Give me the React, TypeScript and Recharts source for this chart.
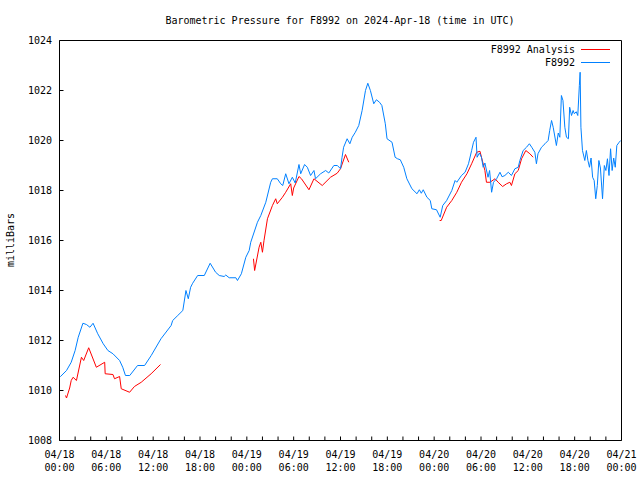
import React from 'react';
import { LineChart, Line, XAxis, YAxis, Legend } from 'recharts';

const FONT = '"DejaVu Sans Mono", "Liberation Mono", monospace';

// Hours since 04/18 00:00 UTC, pressure in milliBars
const blueHours = [
  0.1, 0.9, 1.5, 2.0, 2.4, 3.0, 3.45, 3.9, 4.3, 4.9, 5.6, 6.2, 6.85, 7.7, 8.1, 8.45, 9.0, 10.0, 10.9, 11.75,
  13.0, 14.3, 14.5, 15.15, 15.8, 16.2, 16.5, 16.8, 17.06, 17.7, 18.55, 19.3, 20.0, 20.47, 21.1, 21.3, 21.74, 22.6, 22.8, 23.3,
  23.87, 24.3, 24.5, 25.36, 25.79, 26.43, 27.06, 27.28, 27.9, 28.34, 28.6, 28.98, 29.4, 29.83, 30.2, 30.68, 30.9, 31.4, 31.75, 32.17,
  32.6, 32.8, 33.45, 34.1, 34.5, 35.15, 35.6, 36.0, 36.2, 36.4, 36.85, 37.2, 37.5, 37.9, 38.34, 38.77, 39.2, 39.5, 39.83, 40.26,
  40.6, 41.0, 41.3, 41.74, 41.96, 42.6, 43.0, 43.3, 43.66, 44.1, 44.5, 45.15, 45.8, 46.1, 46.35, 46.6, 47.07, 47.5, 47.7, 48.3,
  48.77, 49.1, 49.6, 50.26, 50.68, 50.9, 51.5, 51.96, 52.4, 52.8, 53.04, 53.36, 53.5, 53.8, 54.06, 54.28, 54.5, 54.9, 55.1, 55.36,
  55.6, 56.0, 56.43, 56.7, 57.06, 57.5, 57.9, 58.34, 58.77, 58.98, 59.4, 59.83, 60.2, 60.5, 60.9, 61.1, 61.3, 61.75, 62.2, 62.6,
  62.8, 63.04, 63.25, 63.66, 63.9, 64.1, 64.3, 64.5, 64.74, 64.95, 65.2, 65.36, 65.6, 65.8, 65.96, 66.2, 66.4, 66.6, 66.7, 66.8,
  67.0, 67.3, 67.5, 67.7, 67.9, 68.1, 68.3, 68.5, 68.7, 68.9, 69.1, 69.3, 69.57, 69.8, 70.0, 70.2, 70.4, 70.6, 70.8, 71.0,
  71.2, 71.4, 71.7, 71.9,
];
const bluePressure = [
  1010.55, 1010.8, 1011.13, 1011.6, 1012.13, 1012.69, 1012.64, 1012.53, 1012.69, 1012.27, 1011.87, 1011.6, 1011.47, 1011.2, 1010.93, 1010.6, 1010.6, 1011.0, 1011.0, 1011.4,
  1012.07, 1012.6, 1012.8, 1013.0, 1013.2, 1014.0, 1013.67, 1014.13, 1014.29, 1014.6, 1014.6, 1015.09, 1014.73, 1014.6, 1014.56, 1014.62, 1014.51, 1014.51, 1014.4, 1014.67,
  1015.33, 1015.6, 1015.93, 1016.73, 1017.0, 1017.53, 1018.33, 1018.47, 1018.47, 1018.27, 1018.2, 1018.67, 1018.27, 1018.53, 1018.3, 1019.04, 1018.67, 1019.04, 1018.93, 1018.6,
  1018.8, 1018.47, 1018.67, 1018.8, 1018.7, 1019.0, 1019.0, 1018.87, 1019.33, 1019.73, 1020.07, 1019.87, 1020.13, 1020.33, 1020.6, 1021.2, 1022.0, 1022.29, 1022.0, 1021.47,
  1021.63, 1021.53, 1021.4, 1020.67, 1020.07, 1019.93, 1019.33, 1019.27, 1019.23, 1018.93, 1018.47, 1018.07, 1017.87, 1018.03, 1017.89, 1018.03, 1017.73, 1017.6, 1017.27, 1017.23,
  1016.93, 1017.4, 1017.6, 1018.0, 1018.4, 1018.33, 1018.6, 1018.73, 1019.07, 1019.6, 1019.93, 1020.13, 1019.33, 1019.5, 1019.33, 1018.93, 1019.1, 1018.53, 1018.8, 1017.93,
  1018.33, 1018.47, 1018.73, 1018.55, 1018.6, 1018.73, 1018.6, 1018.87, 1018.93, 1019.2, 1019.6, 1019.73, 1019.87, 1019.73, 1019.53, 1019.07, 1019.47, 1019.73, 1019.87, 1020.0,
  1020.4, 1020.8, 1020.53, 1019.8, 1020.3, 1020.13, 1021.8, 1021.6, 1020.53, 1020.13, 1020.07, 1021.33, 1021.0, 1021.2, 1021.07, 1021.15, 1021.0, 1022.2, 1022.73, 1020.53,
  1019.6, 1019.2, 1019.6, 1019.2, 1018.93, 1019.3, 1018.53, 1018.4, 1017.67, 1018.2, 1019.2, 1018.9, 1017.67, 1019.0, 1018.8, 1019.27, 1018.6, 1019.67, 1018.8, 1019.3,
  1018.93, 1019.8, 1019.93, 1020.0,
];

const redHours = [
  0.77, 0.9, 1.3, 1.5, 1.74, 2.17, 2.81, 3.1, 3.74, 4.72, 5.79, 5.85, 6.85, 7.05, 7.7, 7.91, 8.98, 9.6, 10.47, 11.74, 12.94,
  18.0,
  24.85, 25.0, 25.57, 25.79, 26.0, 26.2, 26.64, 27.28, 27.7, 27.9, 28.56, 28.98, 29.62, 29.83, 30.0, 30.68, 31.0, 31.96, 32.6, 33.66, 34.72, 35.57, 36.0, 36.64, 37.06,
  43.0,
  48.7, 48.9, 49.6, 50.26, 50.9, 51.5, 52.2, 52.8, 53.45, 53.87, 54.06, 54.5, 54.7, 55.15, 55.8, 56.2, 56.77, 57.28, 57.7, 57.9, 58.34, 58.77, 59.2, 59.74, 60.26, 60.68,
];
const redPressure: (number | null)[] = [
  1009.8, 1009.7, 1010.1, 1010.4, 1010.53, 1010.4, 1011.33, 1011.2, 1011.71, 1010.93, 1011.13, 1010.67, 1010.64, 1010.47, 1010.56, 1010.07, 1009.93, 1010.16, 1010.33, 1010.67, 1011.04,
  null,
  1015.27, 1014.8, 1015.73, 1015.93, 1015.53, 1016.0, 1016.87, 1017.4, 1017.67, 1017.47, 1017.73, 1017.93, 1018.27, 1017.8, 1018.1, 1018.56, 1018.47, 1018.03, 1018.47, 1018.2, 1018.53, 1018.69, 1018.87, 1019.44, 1019.13,
  null,
  1016.8, 1016.8, 1017.33, 1017.6, 1017.93, 1018.33, 1018.67, 1019.07, 1019.53, 1019.57, 1019.33, 1018.8, 1018.33, 1018.33, 1018.47, 1018.33, 1018.16, 1018.27, 1018.33, 1018.2, 1018.67, 1018.8, 1019.27, 1019.6, 1019.47, 1019.33,
];

const hourTicks = [0, 2, 4, 6, 8, 10, 12, 14, 16, 18, 20, 22, 24, 26, 28, 30, 32, 34, 36, 38, 40, 42, 44, 46, 48, 50, 52, 54, 56, 58, 60, 62, 64, 66, 68, 70, 72];
const labelDates = ['04/18', '04/18', '04/18', '04/18', '04/19', '04/19', '04/19', '04/19', '04/20', '04/20', '04/20', '04/20', '04/21'];
const labelTimes = ['00:00', '06:00', '12:00', '18:00', '00:00', '06:00', '12:00', '18:00', '00:00', '06:00', '12:00', '18:00', '00:00'];
const pressureTicks = [1008, 1010, 1012, 1014, 1016, 1018, 1020, 1022, 1024];
const seriesNames = ['F8992 Analysis', 'F8992'];

const blueData = blueHours.map((t, i) => ({ t, p: bluePressure[i] }));
const redData = redHours.map((t, i) => ({ t, p: redPressure[i] }));

const BottomTick = (props: any) => {
  const { x, y, payload } = props;
  const v = payload.value;
  if (v % 6 !== 0) return <g />;
  const i = v / 6;
  return (
    <g>
      <text x={x} y={y + 17} textAnchor="middle" fontFamily={FONT} fontSize={10} fill="#000">{labelDates[i]}</text>
      <text x={x} y={y + 30.5} textAnchor="middle" fontFamily={FONT} fontSize={10} fill="#000">{labelTimes[i]}</text>
    </g>
  );
};

const LegendBox = (props: any) => {
  const items = [...(props.payload || [])].sort(
    (a: any, b: any) => seriesNames.indexOf(a.value) - seriesNames.indexOf(b.value)
  );
  return (
    <svg width={640} height={80} style={{ display: 'block' }}>
      {items.map((e: any, i: number) => (
        <g key={i}>
          <text x={575} y={52.6 + i * 13} textAnchor="end" fontFamily={FONT} fontSize={10} fill="#000">{e.value}</text>
          <line x1={581} x2={610} y1={49.5 + i * 13} y2={49.5 + i * 13} stroke={e.color} strokeWidth={1} />
        </g>
      ))}
    </svg>
  );
};

export default function App() {
  return (
    <div style={{ position: 'absolute', left: 0, top: 0, width: 640, height: 480, background: '#fff' }}>
      <LineChart width={640} height={480} margin={{ top: 39.5, right: 17.5, bottom: 0, left: 0 }}>
        <XAxis xAxisId="b" dataKey="t" type="number" domain={[0, 72]} ticks={hourTicks} interval={0}
          orientation="bottom" height={39.5} stroke="#000" tickSize={-4} tickMargin={4} tick={<BottomTick />} allowDataOverflow />
        <XAxis xAxisId="t" dataKey="t" type="number" domain={[0, 72]} ticks={hourTicks} interval={0}
          orientation="top" height={1} stroke="#000" tickSize={-4} tick={false} allowDataOverflow />
        <YAxis yAxisId="l" type="number" domain={[1008, 1024]} ticks={pressureTicks} interval={0}
          orientation="left" width={59.5} stroke="#000" tickSize={-4} tickMargin={11.5}
          tick={{ fill: '#000', fontSize: 10, fontFamily: FONT }} allowDataOverflow />
        <YAxis yAxisId="r" type="number" domain={[1008, 1024]} ticks={pressureTicks} interval={0}
          orientation="right" width={1} stroke="#000" tickSize={-4} tick={false} allowDataOverflow />
        <Line xAxisId="b" yAxisId="l" data={redData} dataKey="p" name={seriesNames[0]} stroke="#ff0000"
          strokeWidth={1} dot={false} isAnimationActive={false} connectNulls={false} type="linear" />
        <Line xAxisId="b" yAxisId="l" data={blueData} dataKey="p" name={seriesNames[1]} stroke="#0080ff"
          strokeWidth={1} dot={false} isAnimationActive={false} type="linear" />
        <Legend layout="vertical" align="center" verticalAlign="middle" content={<LegendBox />}
          wrapperStyle={{ position: 'absolute', left: 0, top: 0, width: 640, height: 80, margin: 0 }} />
      </LineChart>
      <svg width={640} height={480} style={{ position: 'absolute', left: 0, top: 0, pointerEvents: 'none' }}>
        <text x={340} y={23.6} textAnchor="middle" fontFamily={FONT} fontSize={10} fill="#000">
          Barometric Pressure for F8992 on 2024-Apr-18 (time in UTC)
        </text>
        <text x={14.3} y={240} textAnchor="middle" fontFamily={FONT} fontSize={10} fill="#000"
          transform="rotate(-90 14.3 240)">milliBars</text>
      </svg>
    </div>
  );
}
